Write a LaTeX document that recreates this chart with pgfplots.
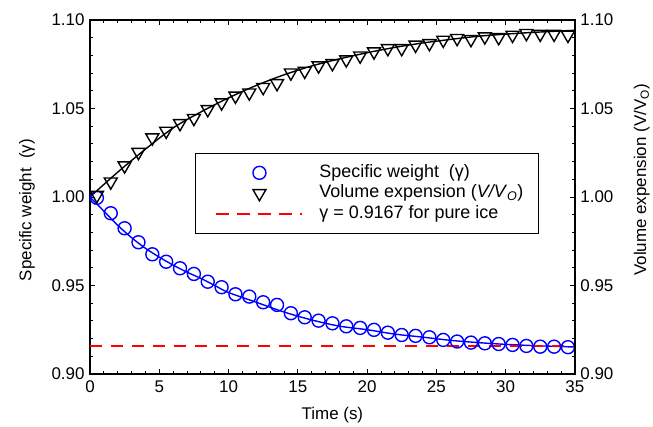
\documentclass[border=0pt]{standalone}
\usepackage{fontspec}
\setmainfont{Liberation Sans}
\usepackage{pgfplots}
\pgfplotsset{compat=1.18}
\definecolor{myblue}{RGB}{0,0,255}
\definecolor{myred}{RGB}{255,0,0}
\begin{document}
\begin{tikzpicture}
\pgfplotsset{
 common/.style={
  scale only axis, width=485bp, height=354bp,
  xmin=0,xmax=35,ymin=0.90,ymax=1.10,
  font=\fontsize{17}{20}\selectfont,
  /pgf/number format/assume math mode=true,
  tick align=inside,
  major tick length=5bp, minor tick length=3bp,
  every tick/.style={black, line width=0.8bp},
  ytick={0.9,0.95,1,1.05,1.1}, minor y tick num=4,
  yticklabel style={/pgf/number format/fixed,/pgf/number format/fixed zerofill,/pgf/number format/precision=2},
 }
}
\begin{axis}[common, axis line style={line width=1.6bp},
  xtick={0,5,10,15,20,25,30,35}, minor x tick num=4,
  xticklabel style={yshift=-3bp},
  yticklabel style={xshift=-2bp},
  xlabel={Time (s)},
  xlabel style={at={(axis description cs:0.5,-0.116)}, anchor=center},
  ylabel={Specific weight\ \ (γ)},
  ylabel style={at={(axis description cs:-0.13,0.463)}, anchor=center},
  legend style={at={(axis description cs:0.2165,0.624)}, anchor=north west,
    draw=black, line width=1bp, inner xsep=13bp, inner ysep=9bp,
    font=\fontsize{18}{21}\selectfont,
    nodes={inner sep=2bp, text height=12.5bp, text depth=4bp},
    /tikz/every odd column/.append style={column sep=14bp}},
  legend cell align=left,
  legend image code/.code={\path (0bp,0bp); \draw[mark repeat=2,mark phase=2,#1] plot coordinates {(7bp,0bp) (50bp,0bp) (93bp,0bp)};},
]
% fit lines
\addplot[myblue, line width=1.4bp, smooth, forget plot] coordinates {
(0,1.000) (1,0.992) (2,0.984) (3,0.977) (4,0.971) (5,0.966) (6,0.9615) (7,0.9575)
(8,0.954) (9,0.950) (10,0.946) (12,0.9405) (14,0.935) (16,0.9305) (18,0.927)
(20,0.925) (22,0.9225) (24,0.9208) (26,0.919) (28,0.9177) (30,0.9167) (32,0.916) (35,0.9152)};
\addplot[black, line width=1.4bp, smooth, forget plot] coordinates {
(0,1.000) (2,1.014) (4,1.027) (6,1.039) (8,1.048) (10,1.056) (12,1.063) (14,1.069)
(16,1.074) (18,1.078) (20,1.0815) (22,1.0845) (24,1.087) (26,1.089) (28,1.0908)
(30,1.092) (32,1.093) (35,1.0942)};
\addplot[only marks, mark=o, mark size=6.5bp, myblue, line width=1.4bp] coordinates {
(0.5,0.9995) (1.5,0.9908) (2.5,0.9823) (3.5,0.9744) (4.5,0.9676) (5.5,0.9634)
(6.5,0.9597) (7.5,0.9565) (8.5,0.9521) (9.5,0.9490) (10.5,0.9450) (11.5,0.9437)
(12.5,0.9405) (13.5,0.9390) (14.5,0.9343) (15.5,0.9320) (16.5,0.9301) (17.5,0.9286)
(18.5,0.9269) (19.5,0.9260) (20.5,0.9249) (21.5,0.9233) (22.5,0.9220) (23.5,0.9215)
(24.5,0.9207) (25.5,0.9192) (26.5,0.9183) (27.5,0.9177) (28.5,0.9173) (29.5,0.9169)
(30.5,0.9164) (31.5,0.9158) (32.5,0.9154) (33.5,0.9154) (34.5,0.9151)};
\addlegendentry{Specific weight\ \ (γ)}
\addplot[only marks, mark=triangle, mark options={rotate=180}, mark size=7.5bp, black, line width=1.4bp] coordinates {
(0.5,1.001) (1.5,1.0086) (2.5,1.0177) (3.5,1.0253) (4.5,1.0335) (5.5,1.0373)
(6.5,1.0416) (7.5,1.0445) (8.5,1.0495) (9.5,1.0533) (10.5,1.0571) (11.5,1.0589)
(12.5,1.0620) (13.5,1.0642) (14.5,1.0702) (15.5,1.0712) (16.5,1.0742) (17.5,1.0755)
(18.5,1.0776) (19.5,1.0798) (20.5,1.0821) (21.5,1.0840) (22.5,1.0840) (23.5,1.0859)
(24.5,1.0868) (25.5,1.0887) (26.5,1.0897) (27.5,1.0891) (28.5,1.0906) (29.5,1.0902)
(30.5,1.0915) (31.5,1.0925) (32.5,1.0921) (33.5,1.0921) (34.5,1.0915)};
\addlegendentry{Volume expension (\textit{V/V}\textsubscript{\textit{O}})}
\addplot[myred, line width=2bp, dash pattern=on 12.5bp off 8.5bp] coordinates {(0,0.9156) (35,0.9156)};
\addlegendentry{γ = 0.9167 for pure ice}
\end{axis}
\begin{axis}[common, axis x line=none, axis y line*=right,
  axis line style={line width=1.6bp},
  yticklabel pos=right,
  yticklabel style={xshift=2bp},
  ylabel={Volume expension (V/V\textsubscript{O})},
  ylabel style={at={(axis description cs:1.138,0.548)}, anchor=center, rotate=0},
]
\addplot[draw=none] coordinates {(0,1)};
\end{axis}
\path (current axis.south west) ++(-90bp,-53bp) coordinate (bl);
\path (current axis.north east) ++(78bp,20bp) coordinate (tr);
\path (bl) rectangle (tr);
\end{tikzpicture}
\end{document}
